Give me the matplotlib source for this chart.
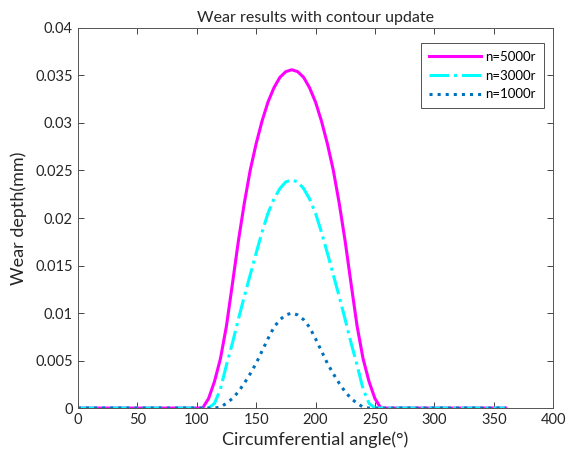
"""Wear depth versus circumferential angle, with contour update."""

import matplotlib

matplotlib.use("Agg")

import matplotlib.pyplot as plt  # noqa: E402

plt.rcParams["font.family"] = ["Lato", "DejaVu Sans"]

angle = [0, 100, 105, 110, 115, 120, 125, 130, 135, 140, 145, 150, 155, 160,
         165, 170, 175, 180, 185, 190, 195, 200, 205, 210, 215, 220, 225,
         230, 235, 240, 245, 250, 255, 260, 360]

# Wear depth (mm) for each number of revolutions
wear_5000 = [0, 0, 0, 0.0010, 0.0028, 0.0052, 0.0086, 0.0130, 0.0175, 0.0215,
             0.0250, 0.0278, 0.0302, 0.0322, 0.0337, 0.0348, 0.0354, 0.0356,
             0.0354, 0.0348, 0.0337, 0.0322, 0.0302, 0.0278, 0.0250, 0.0215,
             0.0175, 0.0130, 0.0086, 0.0052, 0.0028, 0.0010, 0, 0, 0]
wear_3000 = [0, 0, 0, 0, 0.0005, 0.0020, 0.0045, 0.0068, 0.0093, 0.0117,
             0.0140, 0.0163, 0.0185, 0.0205, 0.0220, 0.0231, 0.0238, 0.0240,
             0.0238, 0.0231, 0.0220, 0.0205, 0.0185, 0.0163, 0.0140, 0.0117,
             0.0093, 0.0068, 0.0045, 0.0020, 0.0005, 0, 0, 0, 0]
wear_1000 = [0, 0, 0, 0, 0, 0.0001, 0.0005, 0.0010, 0.0017, 0.0026, 0.0036,
             0.0047, 0.0060, 0.0073, 0.0085, 0.0093, 0.0098, 0.0100, 0.0098,
             0.0093, 0.0085, 0.0073, 0.0060, 0.0047, 0.0036, 0.0026, 0.0017,
             0.0010, 0.0005, 0.0001, 0, 0, 0, 0, 0]

_AX = "#262626"

fig = plt.figure(figsize=(5.68, 4.58), dpi=100, facecolor="white")
ax = fig.add_axes([0.137, 0.109, 0.837, 0.830])

ax.plot(angle, wear_5000, color="#ff00ff", linestyle="-", linewidth=2.2,
        label="n=5000r")
ax.plot(angle, wear_3000, color="#00ffff", linestyle="-.", linewidth=2.2,
        label="n=3000r")
ax.plot(angle, wear_1000, color="#0072bd", linestyle=":", linewidth=2.2,
        label="n=1000r")

ax.set_xlim(0, 400)
ax.set_ylim(0, 0.04)
ax.set_xticks(range(0, 401, 50))
ax.set_yticks([0, 0.005, 0.01, 0.015, 0.02, 0.025, 0.03, 0.035, 0.04])
ax.set_yticklabels(["0", "0.005", "0.01", "0.015", "0.02", "0.025", "0.03",
                    "0.035", "0.04"])

ax.tick_params(direction="in", top=True, right=True, length=4,
               color=_AX, labelcolor=_AX, labelsize=10.5, width=0.6)
for sp in ax.spines.values():
    sp.set_color("#555555")
    sp.set_linewidth(0.7)

ax.set_xlabel("Circumferential angle(°)", fontsize=13, color=_AX, labelpad=3)
ax.set_ylabel("Wear depth(mm)", fontsize=13, color=_AX, labelpad=6)
ax.set_title("Wear results with contour update", fontsize=11.5, color=_AX,
             pad=4)

leg = ax.legend(loc="upper right", bbox_to_anchor=(0.98, 0.96),
                borderaxespad=0, fontsize=9.5, frameon=True, fancybox=False,
                edgecolor=_AX, handlelength=3.9, handletextpad=0.35,
                borderpad=0.6, labelspacing=0.5)
leg.get_frame().set_linewidth(0.7)

fig.savefig("out.png", dpi=100, facecolor="white")
plt.close(fig)
